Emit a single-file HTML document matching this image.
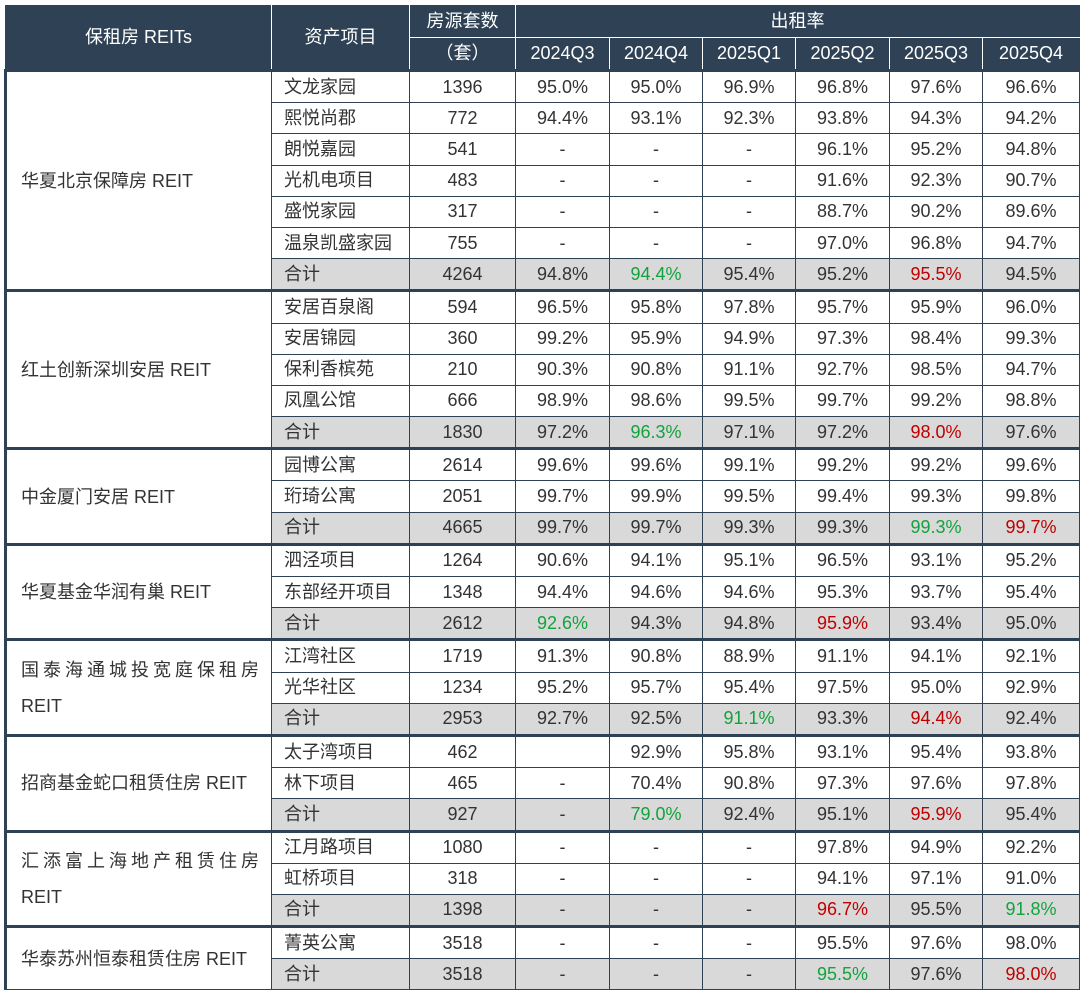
<!DOCTYPE html><html><head><meta charset="utf-8"><style>
body{margin:0;background:#fff;width:1080px;height:991px;overflow:hidden;font-family:"Liberation Sans","Noto Sans CJK SC",sans-serif;}
table{position:absolute;left:4px;top:5px;border-collapse:collapse;table-layout:fixed;width:1074px;font-size:18px;color:#333;}
td,th{border:1px solid #2e4155;padding:0;text-align:center;height:30.2px;line-height:29px;white-space:nowrap;overflow:hidden}
th{background:#2e4155;color:#fff;font-weight:normal;border-color:#fff;height:31px}
th.top{border-top-color:#2e4155}
td.n{text-align:left;padding:0 12px 0 14px;white-space:normal;line-height:36px;border-left:3px solid #2e4155}
td.p{text-align:left;padding-left:12px}
tr.t td{background:#d9d9d9}
tr.t td.n{background:#fff}
tr.g td{border-top:3px solid #2e4155}
.G{color:#12a33c}.R{color:#c00000}
.sp{letter-spacing:4px;white-space:nowrap}
</style></head><body>
<table>
<colgroup><col style="width:266px"><col style="width:138px"><col style="width:106px"><col style="width:94px"><col style="width:93px"><col style="width:93px"><col style="width:94px"><col style="width:93px"><col style="width:97px"></colgroup>
<tr><th rowspan="2" class="top" style="border-left-color:#2e4155">保租房 REITs</th><th rowspan="2" class="top">资产项目</th><th class="top">房源套数</th><th colspan="6" class="top" style="border-right-color:#2e4155">出租率</th></tr>
<tr><th style="border-bottom:3px solid #2e4155">（套）</th><th>2024Q3</th><th>2024Q4</th><th>2025Q1</th><th>2025Q2</th><th>2025Q3</th><th style="border-right-color:#2e4155">2025Q4</th></tr>

<tr class="g"><td class="n" rowspan="7">华夏北京保障房 REIT</td><td class="p">文龙家园</td><td>1396</td><td>95.0%</td><td>95.0%</td><td>96.9%</td><td>96.8%</td><td>97.6%</td><td>96.6%</td></tr>
<tr><td class="p">熙悦尚郡</td><td>772</td><td>94.4%</td><td>93.1%</td><td>92.3%</td><td>93.8%</td><td>94.3%</td><td>94.2%</td></tr>
<tr><td class="p">朗悦嘉园</td><td>541</td><td>-</td><td>-</td><td>-</td><td>96.1%</td><td>95.2%</td><td>94.8%</td></tr>
<tr><td class="p">光机电项目</td><td>483</td><td>-</td><td>-</td><td>-</td><td>91.6%</td><td>92.3%</td><td>90.7%</td></tr>
<tr><td class="p">盛悦家园</td><td>317</td><td>-</td><td>-</td><td>-</td><td>88.7%</td><td>90.2%</td><td>89.6%</td></tr>
<tr><td class="p">温泉凯盛家园</td><td>755</td><td>-</td><td>-</td><td>-</td><td>97.0%</td><td>96.8%</td><td>94.7%</td></tr>
<tr class="t"><td class="p">合计</td><td>4264</td><td>94.8%</td><td class="G">94.4%</td><td>95.4%</td><td>95.2%</td><td class="R">95.5%</td><td>94.5%</td></tr>

<tr class="g"><td class="n" rowspan="5">红土创新深圳安居 REIT</td><td class="p">安居百泉阁</td><td>594</td><td>96.5%</td><td>95.8%</td><td>97.8%</td><td>95.7%</td><td>95.9%</td><td>96.0%</td></tr>
<tr><td class="p">安居锦园</td><td>360</td><td>99.2%</td><td>95.9%</td><td>94.9%</td><td>97.3%</td><td>98.4%</td><td>99.3%</td></tr>
<tr><td class="p">保利香槟苑</td><td>210</td><td>90.3%</td><td>90.8%</td><td>91.1%</td><td>92.7%</td><td>98.5%</td><td>94.7%</td></tr>
<tr><td class="p">凤凰公馆</td><td>666</td><td>98.9%</td><td>98.6%</td><td>99.5%</td><td>99.7%</td><td>99.2%</td><td>98.8%</td></tr>
<tr class="t"><td class="p">合计</td><td>1830</td><td>97.2%</td><td class="G">96.3%</td><td>97.1%</td><td>97.2%</td><td class="R">98.0%</td><td>97.6%</td></tr>

<tr class="g"><td class="n" rowspan="3">中金厦门安居 REIT</td><td class="p">园博公寓</td><td>2614</td><td>99.6%</td><td>99.6%</td><td>99.1%</td><td>99.2%</td><td>99.2%</td><td>99.6%</td></tr>
<tr><td class="p">珩琦公寓</td><td>2051</td><td>99.7%</td><td>99.9%</td><td>99.5%</td><td>99.4%</td><td>99.3%</td><td>99.8%</td></tr>
<tr class="t"><td class="p">合计</td><td>4665</td><td>99.7%</td><td>99.7%</td><td>99.3%</td><td>99.3%</td><td class="G">99.3%</td><td class="R">99.7%</td></tr>

<tr class="g"><td class="n" rowspan="3">华夏基金华润有巢 REIT</td><td class="p">泗泾项目</td><td>1264</td><td>90.6%</td><td>94.1%</td><td>95.1%</td><td>96.5%</td><td>93.1%</td><td>95.2%</td></tr>
<tr><td class="p">东部经开项目</td><td>1348</td><td>94.4%</td><td>94.6%</td><td>94.6%</td><td>95.3%</td><td>93.7%</td><td>95.4%</td></tr>
<tr class="t"><td class="p">合计</td><td>2612</td><td class="G">92.6%</td><td>94.3%</td><td>94.8%</td><td class="R">95.9%</td><td>93.4%</td><td>95.0%</td></tr>

<tr class="g"><td class="n" rowspan="3"><span class="sp">国泰海通城投宽庭保租房</span><br>REIT</td><td class="p">江湾社区</td><td>1719</td><td>91.3%</td><td>90.8%</td><td>88.9%</td><td>91.1%</td><td>94.1%</td><td>92.1%</td></tr>
<tr><td class="p">光华社区</td><td>1234</td><td>95.2%</td><td>95.7%</td><td>95.4%</td><td>97.5%</td><td>95.0%</td><td>92.9%</td></tr>
<tr class="t"><td class="p">合计</td><td>2953</td><td>92.7%</td><td>92.5%</td><td class="G">91.1%</td><td>93.3%</td><td class="R">94.4%</td><td>92.4%</td></tr>

<tr class="g"><td class="n" rowspan="3">招商基金蛇口租赁住房 REIT</td><td class="p">太子湾项目</td><td>462</td><td></td><td>92.9%</td><td>95.8%</td><td>93.1%</td><td>95.4%</td><td>93.8%</td></tr>
<tr><td class="p">林下项目</td><td>465</td><td>-</td><td>70.4%</td><td>90.8%</td><td>97.3%</td><td>97.6%</td><td>97.8%</td></tr>
<tr class="t"><td class="p">合计</td><td>927</td><td>-</td><td class="G">79.0%</td><td>92.4%</td><td>95.1%</td><td class="R">95.9%</td><td>95.4%</td></tr>

<tr class="g"><td class="n" rowspan="3"><span class="sp">汇添富上海地产租赁住房</span><br>REIT</td><td class="p">江月路项目</td><td>1080</td><td>-</td><td>-</td><td>-</td><td>97.8%</td><td>94.9%</td><td>92.2%</td></tr>
<tr><td class="p">虹桥项目</td><td>318</td><td>-</td><td>-</td><td>-</td><td>94.1%</td><td>97.1%</td><td>91.0%</td></tr>
<tr class="t"><td class="p">合计</td><td>1398</td><td>-</td><td>-</td><td>-</td><td class="R">96.7%</td><td>95.5%</td><td class="G">91.8%</td></tr>

<tr class="g"><td class="n" rowspan="2">华泰苏州恒泰租赁住房 REIT</td><td class="p">菁英公寓</td><td>3518</td><td>-</td><td>-</td><td>-</td><td>95.5%</td><td>97.6%</td><td>98.0%</td></tr>
<tr class="t"><td class="p">合计</td><td>3518</td><td>-</td><td>-</td><td>-</td><td class="G">95.5%</td><td>97.6%</td><td class="R">98.0%</td></tr>
</table>
</body></html>
